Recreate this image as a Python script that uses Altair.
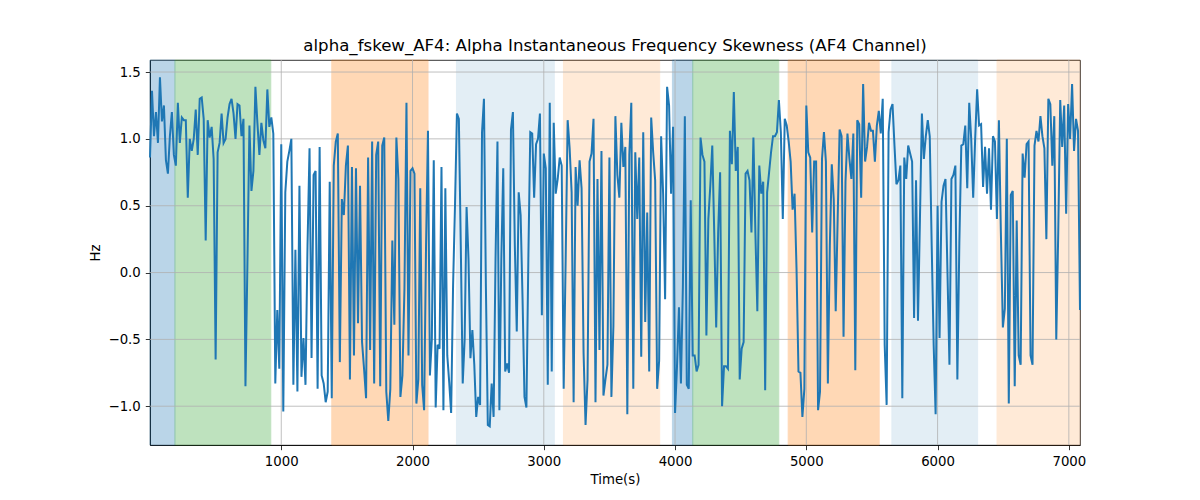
import altair as alt
import pandas as pd

TITLE = "alpha_fskew_AF4: Alpha Instantaneous Frequency Skewness (AF4 Channel)"

# time boundaries of the chunks below (seconds); samples spread evenly inside each chunk
CHUNK_EDGES = [0, 1000, 2000, 3000, 4000, 5000, 6000, 7085]

chunk_0 = [0.86, 1.36, 1.02, 1.2, 0.97, 1.46, 1.13, 1.25, 0.84, 0.74,
           1.02, 1.2, 0.88, 0.80, 1.27, 0.97, 1.16, 1.14, 1.14, 0.56,
           1.0, 0.91, 1.0, 1.22, 0.88, 1.3, 1.31, 1.15, 0.24, 1.14,
           1.01, 1.09, 0.85, -0.65, 0.9, 0.97, 1.19, 0.97, 1.0, 1.16,
           1.26, 1.3, 1.19, 1.0, 1.26, 1.25, 1.02, 1.15, -0.85, 0.08,
           1.1, 0.61, 0.76, 1.39, 1.12, 0.88, 1.12, 0.99, 0.93, 1.37,
           1.09, 1.16, 1.04, -0.83, -0.28, -0.72]
chunk_1 = [0.96, -1.04, 0.6, 0.83, 0.91, 1.0, -0.84, 0.17, -0.89, 0.65,
           -0.78, -0.49, -0.84, 0.2, 0.93, -0.64, 0.73, 0.76, -0.87, 0.94,
           -0.77, -0.83, -0.97, -0.89, 0.68, -0.94, 0.8, 0.98, 1.04, -0.67,
           0.55, 0.43, 0.8, 0.95, -0.8, 0.79, -0.62, 0.78, -0.38, 0.65,
           -0.52, -0.72, -0.94, 0.86, -0.58, 0.98, -0.83, 0.88, 0.98, -0.85,
           0.95, 1.01, -0.89, -1.11, -0.87, 0.24, -0.39, 1.01, 0.7, -0.93,
           -0.77, -0.12, 1.27, -0.62, 0.76]
chunk_2 = [0.78, 0.74, -0.98, -0.8, 0.63, -0.84, -1.03, 0.2, 1.06, -0.77,
           -0.5, 0.84, -1.01, -0.54, -0.57, 0.79, -1.03, 0.63, -0.62, -0.82,
           -1.05, -0.1, 0.5, 1.19, 1.15, 0.2, -0.83, -0.5, 0.49, 0.1,
           -0.64, -0.43, -0.69, -1.08, -0.93, -0.99, 1.05, 1.3, -0.1, -1.14,
           -1.15, -0.83, -1.08, 0.1, 0.98, -1.03, 0.1, 0.78, -0.74, -0.68,
           -0.75, 1.07, 1.2, 0.2, -0.44, 0.6, 0.43, -0.2, -0.93, -1.01,
           0.1, 1.05, 1.04, 0.56, 0.96, 1.0, 1.19, -0.32]
chunk_3 = [0.89, 0.78, -0.84, 1.27, -0.74, 1.12, 0.59, 0.7, 0.86, 0.8,
           -0.87, 0.1, 1.14, 0.93, 0.6, -0.97, 0.79, 0.5, 0.84, 0.63,
           -0.6, -1.14, -0.8, 0.83, 0.89, 1.15, -0.97, 0.7, -0.58, 0.91,
           -0.92, -0.8, -0.69, 0.86, -0.93, -0.4, 1.17, 0.73, 0.56, 1.12,
           0.79, 0.94, -1.06, 0.88, 1.27, -0.87, 0.9, 0.4, 0.86, -0.63,
           1.05, -0.37, 0.45, -0.74, 1.16, 0.9, 0.69, -0.87, -0.66, 1.02,
           0.59, -0.2, 1.39, 1.25, 0.59, 1.09]
chunk_4 = [-1.05, -0.7, -0.26, -0.83, -0.1, 1.17, -0.84, -0.87, 0.54, -0.62,
           -0.62, -0.74, -0.69, 1.01, 0.88, 0.83, -0.47, 0.4, 0.65, 0.95,
           0.3, -0.41, 0.3, 0.75, -1.0, -0.7, -0.7, -0.72, 1.06, 0.81,
           1.35, 0.76, 0.94, -0.8, -0.57, -0.52, 0.74, 0.76, 0.69, 0.3,
           1.01, 0.3, -0.29, 0.8, 0.59, 0.68, -0.88, 0.6, 0.75, 0.9,
           1.02, 1.02, 1.05, 1.29, 1.05, 0.4, 1.15, 1.1, 0.98, 0.83,
           0.47, 0.59, 0.03, -0.74, -0.75, -1.08, -0.87]
chunk_5 = [1.25, 0.9, 0.86, 0.3, 0.83, 0.83, -1.03, -0.89, 0.85, 1.05,
           0.83, -0.83, 0.2, 0.81, 0.55, -0.29, 0.4, 1.07, 1.02, -0.48,
           0.68, 1.04, 0.85, 0.7, 1.04, -0.73, 1.14, 1.11, 0.56, 1.41,
           0.83, 0.94, 1.12, 1.06, 1.06, 0.83, 1.1, 1.21, 1.04, 1.3,
           -0.54, -0.99, 1.05, 1.22, 1.26, 0.95, 0.66, 0.69, 0.8, -0.94,
           0.86, 0.7, 0.95, 0.89, 0.83, -0.34, 0.69, -0.36, 0.4, 1.19,
           0.85, 1.02, 1.14, 1.02, 0.2, -0.54, -1.06]
chunk_6 = [0.5, -0.49, 0.53, 0.65, 0.7, 0.0, -0.69, 0.7, 0.73, 0.8,
           -0.8, 0.22, 0.95, 0.96, 1.1, 0.63, 1.27, 1.0, 0.56, 1.0,
           1.37, 1.1, 1.11, 0.64, 0.94, 0.59, 0.93, 0.47, 1.02, 0.98,
           0.4, 1.14, 0.3, -0.41, -0.27, 1.0, -0.98, 0.58, 0.61, -0.85,
           0.39, -0.62, -0.69, 0.89, 0.71, 0.96, 0.98, -0.62, -0.69, 0.95,
           1.06, 0.98, 1.17, 1.02, 0.93, 0.25, 1.3, 1.26, 0.8, 1.17,
           -0.5, 0.3, 1.29, 0.94, 1.25, 0.44, 1.26, 1.0, 1.41, 0.91,
           1.15, 1.06, -0.28]
CHUNKS = [chunk_0, chunk_1, chunk_2, chunk_3, chunk_4, chunk_5, chunk_6]

# shaded segments
SPAN_START = [0, 190, 1385, 2335, 3150, 3980, 4135, 4862, 5652, 6453]
SPAN_END = [190, 920, 2118, 3080, 3883, 4135, 4790, 5555, 6305, 7085]
SPAN_COLOR = ["#1f77b4", "#2ca02c", "#ff7f0e", "#1f77b4", "#ff7f0e",
              "#1f77b4", "#2ca02c", "#ff7f0e", "#1f77b4", "#ff7f0e"]
SPAN_ALPHA = [0.3, 0.3, 0.3, 0.12, 0.16, 0.3, 0.3, 0.3, 0.12, 0.16]

X_TICKS = [1000, 2000, 3000, 4000, 5000, 6000, 7000]
Y_TICKS = [-1.0, -0.5, 0.0, 0.5, 1.0, 1.5]
X_DOMAIN = [0, 7085]
Y_DOMAIN = [-1.29, 1.59]

FONT = "DejaVu Sans"

rows = []
for k, chunk in enumerate(CHUNKS):
    start, end = CHUNK_EDGES[k], CHUNK_EDGES[k + 1]
    last = k == len(CHUNKS) - 1
    step = (end - start) / (len(chunk) - 1 if last else len(chunk))
    for i, v in enumerate(chunk):
        rows.append({"t": start + i * step, "v": v})
series = pd.DataFrame(rows)

spans = pd.DataFrame({"start": SPAN_START, "end": SPAN_END,
                      "color": SPAN_COLOR, "alpha": SPAN_ALPHA})

x_scale = alt.Scale(domain=X_DOMAIN, nice=False, zero=False)
y_scale = alt.Scale(domain=Y_DOMAIN, nice=False, zero=False)
x_axis = alt.Axis(values=X_TICKS, title="Time(s)", grid=False, format="d")
y_axis = alt.Axis(values=Y_TICKS, title="Hz", grid=False, format=".1f")

# axvspan-like bands: fill and edge share the colour and the alpha
shade = alt.Chart(spans).mark_rect(strokeWidth=1).encode(
    x=alt.X("start:Q", scale=x_scale, axis=x_axis),
    x2="end:Q",
    color=alt.Color("color:N", scale=None),
    stroke=alt.Stroke("color:N", scale=None),
    opacity=alt.Opacity("alpha:Q", scale=None),
)

vgrid = alt.Chart(pd.DataFrame({"t": X_TICKS})).mark_rule(
    color="#b0b0b0", strokeWidth=0.8
).encode(x=alt.X("t:Q", scale=x_scale, axis=x_axis))

hgrid = alt.Chart(pd.DataFrame({"v": Y_TICKS})).mark_rule(
    color="#b0b0b0", strokeWidth=0.8
).encode(y=alt.Y("v:Q", scale=y_scale, axis=y_axis))

line = alt.Chart(series).mark_line(color="#1f77b4", strokeWidth=2).encode(
    x=alt.X("t:Q", scale=x_scale, axis=x_axis),
    y=alt.Y("v:Q", scale=y_scale, axis=y_axis),
)

chart = (
    alt.layer(shade, vgrid, hgrid, line)
    .properties(
        width=930,
        height=385,
        title=alt.Title(TITLE, font=FONT, fontSize=16.6, fontWeight="normal",
                        color="black", anchor="middle", offset=5),
        autosize=alt.AutoSizeParams(type="none"),
        padding={"left": 142, "top": 52, "right": 112, "bottom": 47},
    )
    .configure_view(stroke="black", strokeWidth=0.8)
    .configure_axis(
        labelFont=FONT, labelFontSize=13.3, labelColor="black",
        titleFont=FONT, titleFontSize=13.3, titleColor="black",
        titleFontWeight="normal",
        domainColor="black", domainWidth=0.8,
        tickColor="black", tickWidth=0.8, tickSize=4.7,
        labelPadding=5,
    )
    .configure_axisX(titlePadding=4)
    .configure_axisY(titlePadding=6)
)

chart.save("out.html", embed_options={"renderer": "svg", "actions": False})
